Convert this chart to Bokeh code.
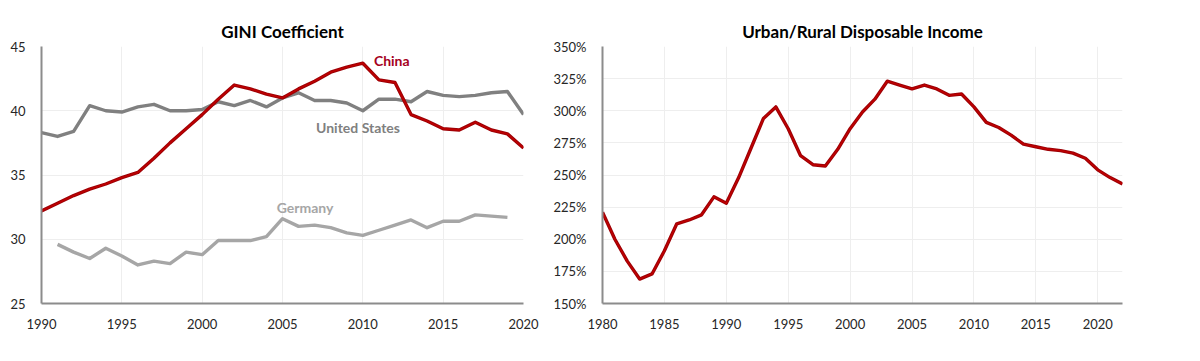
from bokeh.plotting import figure
from bokeh.layouts import row
from bokeh.models import Range1d, FixedTicker, Label, PrintfTickFormatter
from bokeh.embed import file_html
from bokeh.resources import INLINE

# ---------------- data ----------------
gini_years = list(range(1990, 2021))
china_gini = [32.2, 32.8, 33.4, 33.9, 34.3, 34.8, 35.2, 36.3, 37.5, 38.6, 39.7,
              40.9, 42.0, 41.7, 41.3, 41.0, 41.7, 42.3, 43.0, 43.4, 43.7,
              42.4, 42.2, 39.7, 39.2, 38.6, 38.5, 39.1, 38.5, 38.2, 37.1]
us_gini = [38.3, 38.0, 38.4, 40.4, 40.0, 39.9, 40.3, 40.5, 40.0, 40.0, 40.1,
           40.7, 40.4, 40.8, 40.3, 41.0, 41.4, 40.8, 40.8, 40.6, 40.0,
           40.9, 40.9, 40.7, 41.5, 41.2, 41.1, 41.2, 41.4, 41.5, 39.7]
germany_years = list(range(1991, 2020))
germany_gini = [29.6, 29.0, 28.5, 29.3, 28.7, 28.0, 28.3, 28.1, 29.0, 28.8,
                29.9, 29.9, 29.9, 30.2, 31.6, 31.0, 31.1, 30.9, 30.5, 30.3,
                30.7, 31.1, 31.5, 30.9, 31.4, 31.4, 31.9, 31.8, 31.7]
gini_x_ticks = [1990, 1995, 2000, 2005, 2010, 2015, 2020]
gini_y_ticks = [25, 30, 35, 40, 45]

ratio_years = list(range(1980, 2023))
urban_rural_pct = [221, 200, 183, 169, 173, 191, 212, 215, 219, 233, 228,
                   248, 271, 294, 303, 286, 265, 258, 257, 270, 286,
                   299, 309, 323, 320, 317, 320, 317, 312, 313, 303,
                   291, 287, 281, 274, 272, 270, 269, 267, 263, 254,
                   248, 243]
ratio_x_ticks = [1980, 1985, 1990, 1995, 2000, 2005, 2010, 2015, 2020]
ratio_y_ticks = [150, 175, 200, 225, 250, 275, 300, 325, 350]

FONT = "Lato"
RED_DARK = "#9c0006"
RED = "#c00000"
US_GREY = "#808080"
DE_GREY = "#a6a6a6"


def style(p, xt, yt):
    p.title.align = "center"
    p.title.text_font = FONT
    p.title.text_font_size = "17px"
    p.title.text_font_style = "bold"
    p.title.text_color = "#000000"
    p.title.standoff = 9
    p.outline_line_color = None
    p.background_fill_color = "white"
    p.border_fill_color = "white"
    for ax in (p.xaxis[0], p.yaxis[0]):
        ax.major_tick_line_color = None
        ax.minor_tick_line_color = None
        ax.axis_line_color = "#8c8c8c"
        ax.axis_line_width = 2
        ax.major_label_text_font = FONT
        ax.major_label_text_font_size = "13px"
        ax.major_label_text_color = "#262626"
    p.xaxis.ticker = FixedTicker(ticks=xt)
    p.yaxis.ticker = FixedTicker(ticks=yt)
    p.xaxis.major_label_standoff = 9
    p.yaxis.major_label_standoff = 10
    p.xgrid.ticker = FixedTicker(ticks=xt)
    p.ygrid.ticker = FixedTicker(ticks=yt)
    p.grid.grid_line_color = "#eeeeee"
    p.grid.grid_line_width = 1


# ---------------- left chart ----------------
p1 = figure(width=550, height=345, x_range=Range1d(1990, 2020), y_range=Range1d(25, 45),
            output_backend="svg", toolbar_location=None,
            min_border_left=41, min_border_right=27, min_border_top=46, min_border_bottom=42,
            title="GINI Coefficient")
style(p1, gini_x_ticks, gini_y_ticks)

p1.line(germany_years, germany_gini, line_color=DE_GREY, line_width=3.4, line_join="round")
p1.line(gini_years, us_gini, line_color=US_GREY, line_width=3.4, line_join="round")
p1.line(gini_years, china_gini, line_color=RED_DARK, line_width=3.4, line_join="round")
p1.line(gini_years, china_gini, line_color=RED, line_width=1.4, line_join="round")

for txt, x, y, col in [("China", 2011.8, 43.9, "#a50021"),
                       ("United States", 2009.7, 38.7, US_GREY),
                       ("Germany", 2006.4, 32.5, DE_GREY)]:
    p1.add_layout(Label(x=x, y=y, text=txt, text_align="center", text_baseline="middle",
                        text_font=FONT, text_font_size="14px", text_font_style="bold",
                        text_color=col))

# ---------------- right chart ----------------
p2 = figure(width=592, height=345, x_range=Range1d(1980, 2022), y_range=Range1d(150, 350),
            output_backend="svg", toolbar_location=None,
            min_border_left=51, min_border_right=20, min_border_top=46, min_border_bottom=42,
            title="Urban/Rural Disposable Income")
style(p2, ratio_x_ticks, ratio_y_ticks)
p2.title.offset = -10
p2.yaxis.formatter = PrintfTickFormatter(format="%d%%")

p2.line(ratio_years, urban_rural_pct, line_color=RED_DARK, line_width=3.4, line_join="round")
p2.line(ratio_years, urban_rural_pct, line_color=RED, line_width=1.4, line_join="round")

layout = row(p1, p2)
open("out.html", "w").write(file_html(layout, INLINE))
